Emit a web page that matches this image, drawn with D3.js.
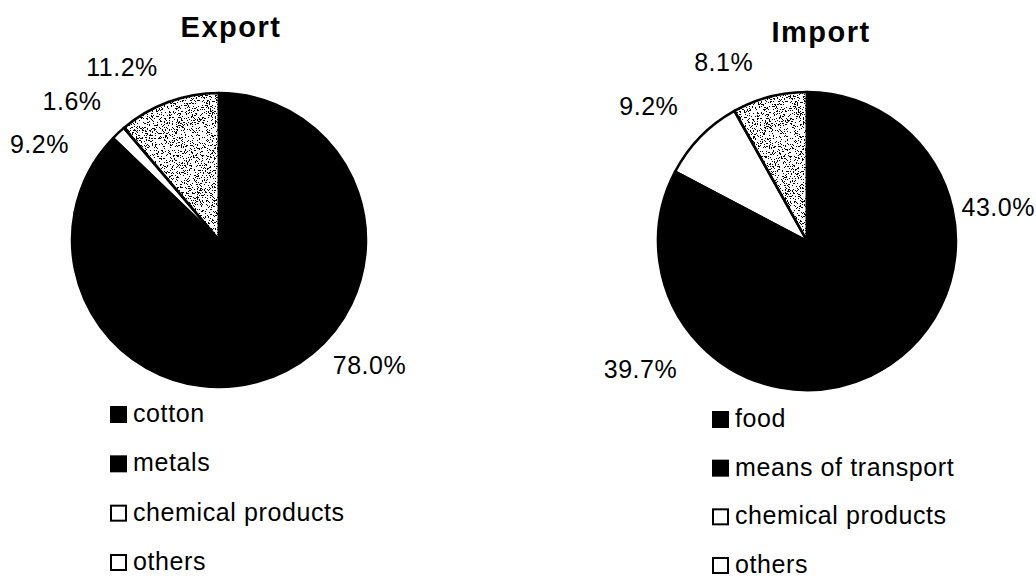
<!DOCTYPE html>
<html>
<head>
<meta charset="utf-8">
<script src="https://cdn.jsdelivr.net/npm/d3@7"></script>
<style>
  body { margin: 0; background: #fff; }
  text { font-family: "Liberation Sans", Arial, Helvetica, sans-serif; fill: #000; }
</style>
</head>
<body>
<script>
// Data
const exportCategories = ["cotton", "metals", "chemical products", "others"];
const exportValues = [78.0, 9.2, 1.6, 11.2];

const importCategories = ["food", "means of transport", "chemical products", "others"];
const importValues = [43.0, 39.7, 9.2, 8.1];

// Slice fills by position: black, black, white, stippled
const sliceFill = ["#000", "#000", "#fff", "#fff"];
const legendFill = ["#000", "#000", "#fff", "#fff"];

const width = 1036, height = 577;

const svg = d3.select("body").append("svg")
    .attr("width", width)
    .attr("height", height);

// Stipple texture: thresholded noise clipped to the slice shape
const filter = svg.append("defs").append("filter")
    .attr("id", "stipple")
    .attr("color-interpolation-filters", "sRGB");
filter.append("feTurbulence")
    .attr("type", "fractalNoise")
    .attr("baseFrequency", 1.4)
    .attr("numOctaves", 2)
    .attr("seed", 7)
    .attr("result", "noise");
filter.append("feColorMatrix")
    .attr("in", "noise")
    .attr("type", "matrix")
    .attr("values", "0 0 0 0 0  0 0 0 0 0  0 0 0 0 0  1 0 0 0 0")
    .attr("result", "dots");
filter.append("feComponentTransfer")
    .attr("in", "dots")
    .attr("result", "hard")
    .append("feFuncA")
    .attr("type", "discrete")
    .attr("tableValues", "0 0 0 0 0 0 0 0 0 0 0 0 1 1 1 1 1 1 1 1");
filter.append("feComposite")
    .attr("in", "hard")
    .attr("in2", "SourceAlpha")
    .attr("operator", "in");

function drawPie(cfg, categories, values) {
    const rows = values.map((v, i) => ({ cat: categories[i], value: v, i: i }));
    const pie = d3.pie().sort(null).value(d => d.value);
    const arcs = pie(rows);
    const arc = d3.arc().innerRadius(0).outerRadius(cfg.r);
    const labelArc = d3.arc().innerRadius(cfg.labelR).outerRadius(cfg.labelR);

    const g = svg.append("g")
        .attr("transform", `translate(${cfg.cx},${cfg.cy})`);

    g.selectAll("path.slice")
        .data(arcs)
        .join("path")
        .attr("class", "slice")
        .attr("d", arc)
        .attr("fill", d => sliceFill[d.data.i]);

    // stippled overlay for "others"
    g.selectAll("path.noise")
        .data(arcs.filter(d => d.data.i === 3))
        .join("path")
        .attr("class", "noise")
        .attr("d", arc)
        .attr("fill", "#000")
        .attr("filter", "url(#stipple)");

    g.selectAll("path.edge")
        .data(arcs)
        .join("path")
        .attr("class", "edge")
        .attr("d", arc)
        .attr("fill", "none")
        .attr("stroke", "#000")
        .attr("stroke-width", 2.5)
        .attr("stroke-linejoin", "round");

    // percentage labels outside the pie
    g.selectAll("text.pct")
        .data(arcs)
        .join("text")
        .attr("class", "pct")
        .attr("x", d => labelArc.centroid(d)[0] + cfg.nudge[d.data.i][0])
        .attr("y", d => labelArc.centroid(d)[1] + cfg.nudge[d.data.i][1])
        .attr("dy", "0.36em")
        .attr("text-anchor", "middle")
        .style("font-size", "25px")
        .style("letter-spacing", "0.5px")
        .text(d => d3.format(".1f")(d.data.value) + "%");

    // title
    svg.append("text")
        .attr("x", cfg.titleX)
        .attr("y", cfg.titleY)
        .attr("text-anchor", "middle")
        .style("font-size", "29px")
        .style("font-weight", "bold")
        .style("letter-spacing", "1.5px")
        .text(cfg.title);

    // legend
    const y = d3.scalePoint()
        .domain(categories)
        .range([cfg.legendY0, cfg.legendY1]);

    const leg = svg.append("g")
        .selectAll("g")
        .data(rows)
        .join("g")
        .attr("transform", d => `translate(${cfg.legendX},${y(d.cat)})`);

    leg.append("rect")
        .attr("x", 0)
        .attr("y", -15)
        .attr("width", 15)
        .attr("height", 15)
        .attr("fill", d => legendFill[d.i])
        .attr("stroke", "#000")
        .attr("stroke-width", 2);

    leg.append("text")
        .attr("x", 22)
        .attr("y", 0)
        .style("font-size", "25px")
        .style("letter-spacing", "0.6px")
        .text(d => d.cat);
}

drawPie({
    title: "Export", titleX: 231, titleY: 37,
    cx: 219, cy: 240, r: 147, labelR: 200,
    nudge: [[23, -29], [-2, -4], [-10, 7], [-28, 15]],
    legendX: 111, legendY0: 422, legendY1: 570
}, exportCategories, exportValues);

drawPie({
    title: "Import", titleX: 821, titleY: 42,
    cx: 807, cy: 241, r: 149, labelR: 200,
    nudge: [[-4, 10], [-22, -10], [-15, 5], [-33, 15]],
    legendX: 713, legendY0: 427, legendY1: 573
}, importCategories, importValues);
</script>
</body>
</html>
